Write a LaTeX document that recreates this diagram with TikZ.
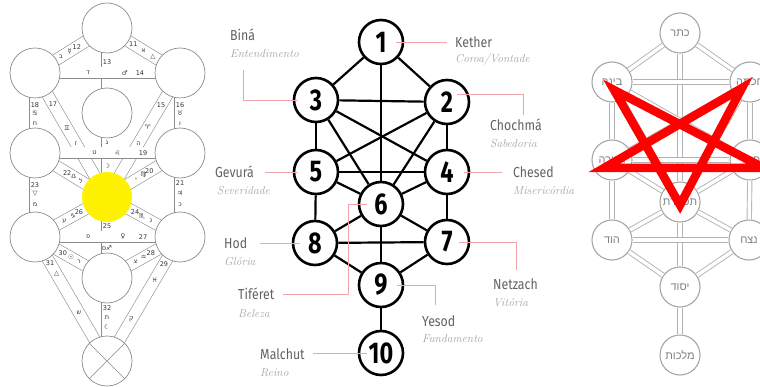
\documentclass[tikz,border=0pt]{standalone}
\usepackage{fontspec}
\newfontfamily\labelfont[FakeStretch=0.85]{Fira Sans}
\newfontfamily\digitfont[FakeStretch=0.78]{Fira Sans}
\newfontfamily\symfont{DejaVu Sans}
\newfontfamily\hebfont[Script=Hebrew]{Liberation Sans}
\TeXXeTstate=1
\usetikzlibrary{backgrounds}

\definecolor{pathgray}{HTML}{8C8C8C}
\definecolor{leadpink}{HTML}{F2A3AC}
\definecolor{txtgray}{HTML}{626262}
\definecolor{subgray}{HTML}{A3A3A3}

\tikzset{
	sefira/.style={circle,draw=pathgray,fill=white,line width=0.7pt,minimum size=50pt,inner sep=0pt},
	strip/.style={draw=pathgray,line width=0.6pt,double=white,double distance=11pt},
	tag/.style={font=\symfont\fontsize{6.5}{6.5}\selectfont,text=black!80,inner sep=0pt},
	num/.style={circle,draw=black,fill=white,line width=2.6pt,minimum size=44pt,inner sep=0pt,
		font=\digitfont\bfseries\fontsize{30}{30}\selectfont},
	branch/.style={line width=2.2pt},
	sefname/.style={anchor=west,text=txtgray,font=\labelfont\fontsize{14.5}{14.5}\selectfont,inner sep=0pt},
	meaning/.style={anchor=west,text=subgray,font=\itshape\fontsize{11.5}{11.5}\selectfont,inner sep=0pt},
	lead/.style={draw=leadpink,line width=0.8pt},
	heb/.style={circle,draw=black!35,fill=white,line width=1.1pt,minimum size=40pt,inner sep=0pt,
		font=\hebfont\fontsize{11}{11}\selectfont,text=black!50},
	rail/.style={draw=black!30,line width=0.9pt,double=white,double distance=3.5pt},
	pentagram/.style={draw=red,line width=8.5pt,line join=miter}
}

\begin{document}
\begin{tikzpicture}[x=1pt,y=-1pt]
	\useasboundingbox (0,0) rectangle (760,387);
	\clip (0,0) rectangle (760,387);
%
% left tree with the paths
	\node[sefira] (kL) at (107,28) {};
	\node[sefira] (bL) at (35,73) {};
	\node[sefira] (cL) at (180,73) {};
	\node[sefira] (dL) at (107,113) {};
	\node[sefira] (gL) at (35,153) {};
	\node[sefira] (chL) at (180,153) {};
	\node[sefira,fill=yellow,draw=none] (tL) at (107,197) {};
	\node[sefira] (hL) at (35,237) {};
	\node[sefira] (nL) at (180,237) {};
	\node[sefira] (yL) at (107,278) {};
	\node[sefira] (mL) at (107,361) {};
	\draw[pathgray,line width=0.7pt] (mL.north west) -- (mL.south east);
	\draw[pathgray,line width=0.7pt] (mL.north east) -- (mL.south west);
	\begin{scope}[on background layer]
	\foreach \src/\dst/\nr/\pa/\sg/\pb/\lt/\pc in {
		kL/cL/11/0.36/א/0.5/△/0.63, kL/bL/12/0.42/☿/0.52/ב/0.64,
		kL/dL/13/0.4/{}/0.5/{}/0.5, dL/tL/{}/0.5/ג/0.36/☽/0.63,
		cL/tL/15/0.26/♈/0.44/ה/0.57, cL/chL/16/0.4/♉/0.5/ו/0.64,
		bL/tL/17/0.25/♊/0.445/ז/0.57, bL/gL/18/0.4/♋/0.5/ח/0.64,
		chL/tL/20/0.42/♍/0.5/י/0.6, chL/nL/21/0.36/♃/0.48/כ/0.62,
		gL/tL/22/0.447/♎/0.54/ל/0.64, gL/hL/23/0.38/▽/0.48/מ/0.62,
		tL/nL/24/0.385/♏/0.48/נ/0.6, tL/yL/25/0.36/♐ס/0.63/{}/0.5,
		tL/hL/26/0.39/♑/0.47/ע/0.59, nL/yL/28/0.4/♒/0.5/צ/0.61,
		nL/mL/29/0.22/♓/0.345/ק/0.667, hL/yL/30/0.386/☉/0.5/ר/0.61,
		hL/mL/31/0.21/△/0.3/ש/0.61, yL/mL/32/0.36/ת/0.48/☾/0.59,
		bL/cL/14/0.724/♂/0.62/ד/0.366, gL/chL/19/0.745/♌/0.57/ט/0.41,
		hL/nL/27/0.745/♀/0.607/פ/0.366}
		\draw[strip] (\src.center) -- (\dst.center)
			node[tag,pos=\pa]{\nr} node[tag,pos=\pb]{\sg} node[tag,pos=\pc]{\lt};
	\end{scope}
%
% middle tree with the names
	\node[num] (n1) at (381,42) {1};
	\node[num] (n2) at (447,102) {2};
	\node[num] (n3) at (316,100) {3};
	\node[num] (n4) at (447,172) {4};
	\node[num] (n5) at (316,172) {5};
	\node[num] (n6) at (381,204) {6};
	\node[num] (n7) at (447,242) {7};
	\node[num] (n8) at (315,243) {8};
	\node[num] (n9) at (381,285) {9};
	\node[num] (n10) at (381,353) {10};
	\foreach \a/\b in {1/2,1/3,1/6,2/3,2/4,2/5,2/6,3/4,3/5,3/6,4/5,4/6,4/7,
		5/6,5/8,6/7,6/8,6/9,7/8,7/9,8/9,9/10}
		\draw[branch] (n\a) -- (n\b);
%
	\node[sefname] (kether) at (455,42) {Kether};
	\node[meaning] (ketherM) at (455,60) {Coroa/Vontade};
	\node[sefname] (bina) at (230,35) {Biná};
	\node[meaning] (binaM) at (230,54) {Entendimento};
	\node[sefname] (chochma) at (490,125) {Chochmá};
	\node[meaning] (chochmaM) at (490,144) {Sabedoria};
	\node[sefname] (chesed) at (513,172) {Chesed};
	\node[meaning] (chesedM) at (513,191) {Misericórdia};
	\node[sefname] (gevura) at (215,172) {Gevurá};
	\node[meaning] (gevuraM) at (217,191) {Severidade};
	\node[sefname] (hod) at (224,243) {Hod};
	\node[meaning] (hodM) at (224,262) {Glória};
	\node[sefname] (tiferet) at (238,294) {Tiféret};
	\node[meaning] (tiferetM) at (238,314) {Beleza};
	\node[sefname] (malchut) at (260,354) {Malchut};
	\node[meaning] (malchutM) at (260,373) {Reino};
	\node[sefname] (netzach) at (493,284) {Netzach};
	\node[meaning] (netzachM) at (493,303) {Vitória};
	\node[sefname] (yesod) at (422,321) {Yesod};
	\node[meaning] (yesodM) at (422,339) {Fundamento};
%
	\coordinate (binaEnd) at (243,70);
	\coordinate (chochmaEnd) at (523,115);
	\coordinate (gevuraEnd) at (265,172);
	\coordinate (hodEnd) at (260,243);
	\coordinate (tiferetEnd) at (283,294);
	\coordinate (tiferetBend) at (348,204);
	\coordinate (malchutEnd) at (313,353);
	\coordinate (netzachEnd) at (516,270);
	\coordinate (yesodEnd) at (435,305);
	\draw[lead] ([xshift=-8pt]kether.west) -- ([xshift=-8pt]n1.east);
	\draw[lead] (binaEnd) |- ([xshift=5pt]n3.west);
	\draw[lead] ([shift={(10,-8)}]n2.center) -| (chochmaEnd);
	\draw[lead] ([xshift=-11pt]chesed.west) -- ([xshift=-6pt]n4.east);
	\draw[lead] (gevuraEnd) -- ([xshift=5pt]n5.west);
	\draw[lead] (hodEnd) -- ([xshift=8pt]n8.west);
	\draw[lead] (tiferetEnd) -| (tiferetBend) -- ([xshift=9pt]n6.west);
	\draw[lead] (malchutEnd) -- ([xshift=9pt]n10.west);
	\draw[lead] ([xshift=-11pt]n7.east) -| (netzachEnd);
	\draw[lead] ([xshift=-7pt]n9.east) -| (yesodEnd);
%
% right tree with the pentagram
	\node[heb] (h1) at (680,33) {\beginR כתר\endR};
	\node[heb] (h2) at (750,82) {\beginR חכמה\endR};
	\node[heb] (h3) at (612,82) {\beginR בינה\endR};
	\node[heb] (h4) at (750,160) {\beginR חסד\endR};
	\node[heb] (h5) at (612,160) {\beginR גבורה\endR};
	\node[heb] (h6) at (680,202) {\beginR תפארת\endR};
	\node[heb] (h7) at (749,240) {\beginR נצח\endR};
	\node[heb] (h8) at (612,240) {\beginR הוד\endR};
	\node[heb] (h9) at (680,287) {\beginR יסוד\endR};
	\node[heb] (h10) at (680,355) {\beginR מלכות\endR};
	\foreach \a/\b in {1/2,1/3,1/6,2/3,2/4,2/5,2/6,3/4,3/5,3/6,4/5,4/6,4/7,
		5/6,5/8,6/7,6/8,6/9,7/8,7/9,8/9,9/10}
		\draw[rail] (h\a) -- (h\b);
	\draw[pentagram] (614,90) -- (680,205) -- (742,88) -- (604,168) -- (764,168) -- cycle;
\end{tikzpicture}
\end{document}
